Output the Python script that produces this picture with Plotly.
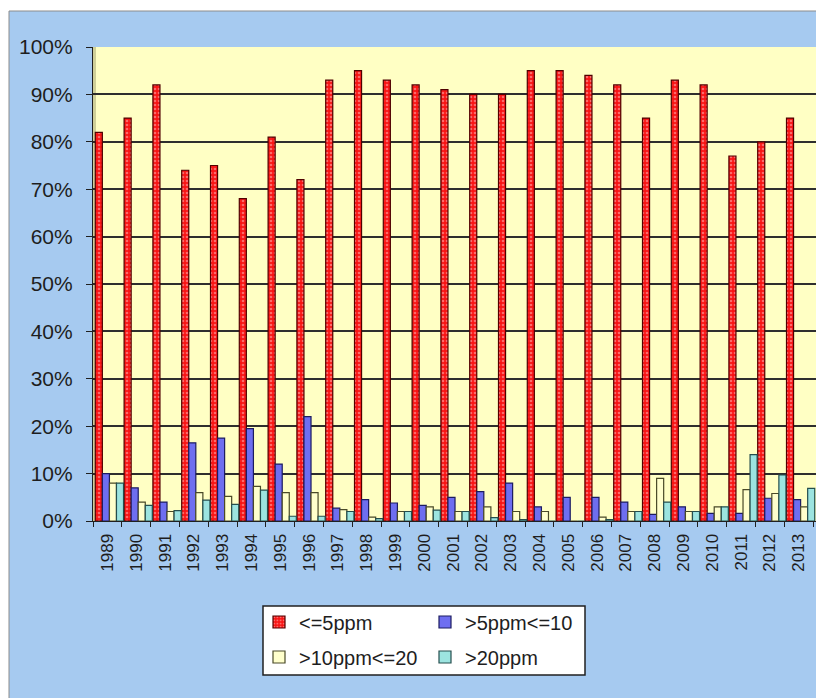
import plotly.graph_objects as go

years = [str(y) for y in range(1989, 2014)]

le5 = [82, 85, 92, 74, 75, 68, 81, 72, 93, 95, 93, 92, 91, 90, 90, 95, 95, 94, 92, 85, 93, 92, 77, 80, 85]
gt5_le10 = [10, 7, 4, 16.5, 17.5, 19.5, 12, 22, 2.7, 4.5, 3.8, 3.3, 5, 6.2, 8, 3, 5, 5, 4, 1.4, 3, 1.6, 1.6, 4.8, 4.5]
gt10_le20 = [8, 4, 2, 6, 5.2, 7.3, 6, 6, 2.4, 0.8, 2, 3, 2, 3, 2, 2, 0, 0.8, 2, 9, 2, 3, 6.6, 5.8, 3]
gt20 = [8, 3.3, 2.2, 4.4, 3.5, 6.5, 1, 1, 2, 0.5, 2, 2.3, 2, 0.7, 0.3, 0, 0, 0.3, 2, 4, 2, 3, 14, 9.7, 6.9]

series_names = ["<=5ppm", ">5ppm<=10", ">10ppm<=20", ">20ppm"]
y_ticks = list(range(0, 101, 10))
y_tick_labels = [f"{v}%" for v in y_ticks]

FONT = "Arial, Liberation Sans, sans-serif"
TXT = "#1e1e1e"

# pixel geometry helpers (plot area: x 93..816, y 47..521)
L, R, T, B = 93, 816, 47, 521
W, H = R - L, B - T
CAT_W = 28.8


def px(x):
    return (x - L) / W


def py(y):
    return (B - y) / H


fig = go.Figure()

BAR_W = 0.245
fig.add_trace(go.Bar(
    x=years, y=le5, name=series_names[0], legend="legend",
    width=BAR_W, offset=-0.42,
    marker=dict(color="#f81414", line=dict(color="#500000", width=1.2),
                pattern=dict(shape=".", bgcolor="#f81414", fgcolor="#ffc0c0", size=4, solidity=0.35)),
))
fig.add_trace(go.Bar(
    x=years, y=gt5_le10, name=series_names[1], legend="legend",
    width=BAR_W, offset=-0.175,
    marker=dict(color="#6e6ef0", line=dict(color="#1c1c60", width=1.2)),
))
fig.add_trace(go.Bar(
    x=years, y=gt10_le20, name=series_names[2], legend="legend2",
    width=BAR_W, offset=0.07,
    marker=dict(color="#ffffcc", line=dict(color="#4a4a28", width=1.2)),
))
fig.add_trace(go.Bar(
    x=years, y=gt20, name=series_names[3], legend="legend2",
    width=BAR_W, offset=0.315,
    marker=dict(color="#9ce4e0", line=dict(color="#244e4e", width=1.2)),
))

shapes = [
    # white strips outside the chart area
    dict(type="rect", xref="paper", yref="paper", x0=px(-20), x1=px(840), y0=py(11), y1=py(-20),
         fillcolor="white", line=dict(width=0), layer="below"),
    dict(type="rect", xref="paper", yref="paper", x0=px(-20), x1=px(9), y0=py(720), y1=py(-20),
         fillcolor="white", line=dict(width=0), layer="below"),
    dict(type="rect", xref="paper", yref="paper", x0=px(9), x1=px(830), y0=py(710), y1=py(11),
         fillcolor="rgba(0,0,0,0)", line=dict(width=1, color="#8c8c8c"), layer="below"),
    # left 3D wall
    dict(type="rect", xref="paper", yref="paper", x0=px(93), x1=px(96), y0=py(521), y1=py(47),
         fillcolor="#cfcf98", line=dict(width=0), layer="below"),
    # legend box
    dict(type="rect", xref="paper", yref="paper", x0=px(263), x1=px(585), y0=py(675), y1=py(606),
         fillcolor="white", line=dict(width=1.5, color="#202020"), layer="below"),
]

legend_common = dict(
    orientation="h", entrywidth=121, entrywidthmode="pixels",
    bgcolor="rgba(0,0,0,0)", borderwidth=0,
    font=dict(family=FONT, size=20, color=TXT),
    xanchor="left", yanchor="middle",
)

fig.update_layout(
    width=816, height=698,
    margin=dict(l=L, r=816 - R, t=T, b=698 - B, pad=0),
    paper_bgcolor="#a6caf0",
    plot_bgcolor="#ffffc4",
    barmode="group",
    font=dict(family=FONT, color=TXT),
    shapes=shapes,
    legend=dict(x=px(259), y=py(622), **legend_common),
    legend2=dict(x=px(259), y=py(657), **legend_common),
    xaxis=dict(
        type="category", range=[-0.5, -0.5 + W / CAT_W],
        tickson="boundaries", ticks="outside", ticklen=5, tickcolor="#202020",
        tickangle=-90, tickfont=dict(family=FONT, size=17, color=TXT),
        ticklabelstandoff=5,
        showline=True, linecolor="#202020", linewidth=1.2,
        showgrid=False,
    ),
    yaxis=dict(
        range=[0, 100], tickvals=y_ticks, ticktext=y_tick_labels,
        ticks="outside", ticklen=6, tickcolor="#202020",
        tickfont=dict(family=FONT, size=21, color=TXT),
        ticklabelstandoff=9,
        showline=True, linecolor="#202020", linewidth=1.2,
        showgrid=True, gridcolor="#2e2e2e", gridwidth=1.5,
        zeroline=False,
    ),
)

fig.write_html(
    "out.html",
    config={"displayModeBar": False},
    post_script="document.body.style.margin='0px';document.body.style.overflow='hidden';",
)
